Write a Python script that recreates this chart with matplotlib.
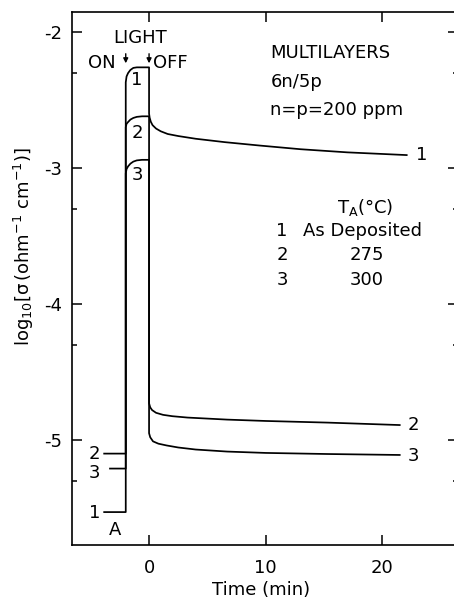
import matplotlib
matplotlib.use("Agg")
import matplotlib.pyplot as plt
import numpy as np

plt.rcParams['font.family'] = ['DejaVu Sans']
plt.rcParams['mathtext.default'] = 'regular'

# ---- data ----
curve_ids = ["1", "2", "3"]
t_on = -2.0
t_off = 0.0
dark_level = [-5.53, -5.10, -5.21]
dark_start = [-3.85, -3.85, -3.35]

rise_t = [-2.0, -1.93, -1.8, -1.6, -1.35, -1.05, -0.6, 0.0]
rise_1 = [-2.37, -2.327, -2.302, -2.279, -2.264, -2.26, -2.26, -2.26]
rise_2 = [-2.70, -2.675, -2.662, -2.644, -2.632, -2.624, -2.62, -2.62]
rise_3 = [-3.04, -3.008, -2.988, -2.968, -2.953, -2.944, -2.94, -2.94]

decay_t1 = [0.0, 0.05, 0.15, 0.3, 0.6, 1.0, 1.6, 2.5, 4.0, 6.5, 9.5, 13.0, 17.0, 22.1]
decay_1 = [-2.60, -2.63, -2.66, -2.685, -2.71, -2.73, -2.75, -2.765, -2.785, -2.81, -2.835, -2.862, -2.885, -2.905]
decay_t2 = [0.0, 0.1, 0.26, 0.6, 1.2, 2.0, 3.3, 6.7, 10.0, 15.3, 21.5]
decay_2 = [-4.73, -4.76, -4.78, -4.80, -4.815, -4.825, -4.835, -4.85, -4.86, -4.872, -4.89]
decay_t3 = [0.0, 0.1, 0.34, 0.8, 1.5, 2.5, 4.0, 6.7, 10.0, 15.3, 21.5]
decay_3 = [-4.95, -4.98, -5.01, -5.027, -5.04, -5.055, -5.07, -5.085, -5.095, -5.103, -5.11]

rises = [rise_1, rise_2, rise_3]
decays_t = [decay_t1, decay_t2, decay_t3]
decays = [decay_1, decay_2, decay_3]

legend_nums = ["1", "2", "3"]
legend_ta = ["As Deposited", "275", "300"]

xticks = [0, 10, 20]
yticks = [-2, -3, -4, -5]

# ---- figure ----
W, H = 454, 599
fig = plt.figure(figsize=(W / 100, H / 100), dpi=100)
ax = fig.add_axes([72 / W, 54 / H, (458 - 72) / W, (545 - 12) / H])

lw = 1.25
for i in range(3):
    t = [dark_start[i], t_on] + rise_t + decays_t[i]
    y = [dark_level[i], dark_level[i]] + rises[i] + decays[i]
    ax.plot(t, y, color='black', lw=lw, solid_joinstyle='round')

ax.set_xlim(-6.61, 26.5)
ax.set_ylim(-5.772, -1.853)

ax.set_xticks(xticks)
ax.set_xticklabels([str(v) for v in xticks])
ax.set_yticks(yticks)
ax.set_yticklabels([str(v) for v in yticks])
ax.set_yticks([v - np.log10(2) for v in yticks], minor=True)
ax.tick_params(which='both', direction='in', top=True, right=True,
               labelsize=13, width=1.1)
ax.tick_params(which='major', length=7)
ax.tick_params(which='minor', length=3.5)
ax.tick_params(axis='y', pad=7)
ax.tick_params(axis='x', pad=10)
for s in ax.spines.values():
    s.set_linewidth(1.2)

fs = 13
# labels inside
ax.text(-1.03, -2.35, "1", fontsize=fs, ha='center', va='center')
ax.text(-1.03, -2.74, "2", fontsize=fs, ha='center', va='center')
ax.text(-1.03, -3.05, "3", fontsize=fs, ha='center', va='center')
# left dark labels
ax.text(-4.7, dark_level[1], "2", fontsize=fs, ha='center', va='center')
ax.text(-4.7, dark_level[2] - 0.03, "3", fontsize=fs, ha='center', va='center')
ax.text(-4.7, dark_level[0] - 0.01, "1", fontsize=fs, ha='center', va='center')
ax.text(-2.9, -5.66, "A", fontsize=fs, ha='center', va='center')
# right end labels
ax.text(22.9, decay_1[-1], "1", fontsize=fs, ha='left', va='center')
ax.text(22.2, decay_2[-1], "2", fontsize=fs, ha='left', va='center')
ax.text(22.2, decay_3[-1] - 0.01, "3", fontsize=fs, ha='left', va='center')

# light annotation
ax.text(-0.77, -2.044, "LIGHT", fontsize=fs, ha='center', va='center')
ax.text(-2.85, -2.23, "ON", fontsize=fs, ha='right', va='center')
ax.text(0.3, -2.23, "OFF", fontsize=fs, ha='left', va='center')
for tx in (t_on, t_off):
    ax.annotate("", xy=(tx, -2.23), xytext=(tx, -2.16),
                arrowprops=dict(arrowstyle='-|>', color='black', lw=1.0,
                                mutation_scale=7, shrinkA=0, shrinkB=0))

# info block
ax.text(10.4, -2.155, "MULTILAYERS", fontsize=fs, ha='left', va='center')
ax.text(10.4, -2.37, "6n/5p", fontsize=fs, ha='left', va='center')
ax.text(10.4, -2.57, "n=p=200 ppm", fontsize=fs, ha='left', va='center')

ax.text(18.5, -3.29, r"$T_A$(°C)", fontsize=fs, ha='center', va='center')
leg_y = [-3.46, -3.64, -3.82]
for n, ta, yy in zip(legend_nums, legend_ta, leg_y):
    ax.text(11.4, yy, n, fontsize=fs, ha='center', va='center')
    if ta == "As Deposited":
        ax.text(13.2, yy, ta, fontsize=fs, ha='left', va='center')
    else:
        ax.text(18.7, yy, ta, fontsize=fs, ha='center', va='center')

fig.text(261 / W, 1 - 590 / H, "Time (min)", fontsize=fs, ha='center', va='center')
fig.text(24 / W, 1 - 247 / H,
         r"$\mathrm{log}_{10}[\sigma\,(\mathrm{ohm}^{-1}\ \mathrm{cm}^{-1})]$",
         fontsize=fs, rotation=90, ha='center', va='center')

fig.savefig("out.png", dpi=100)
